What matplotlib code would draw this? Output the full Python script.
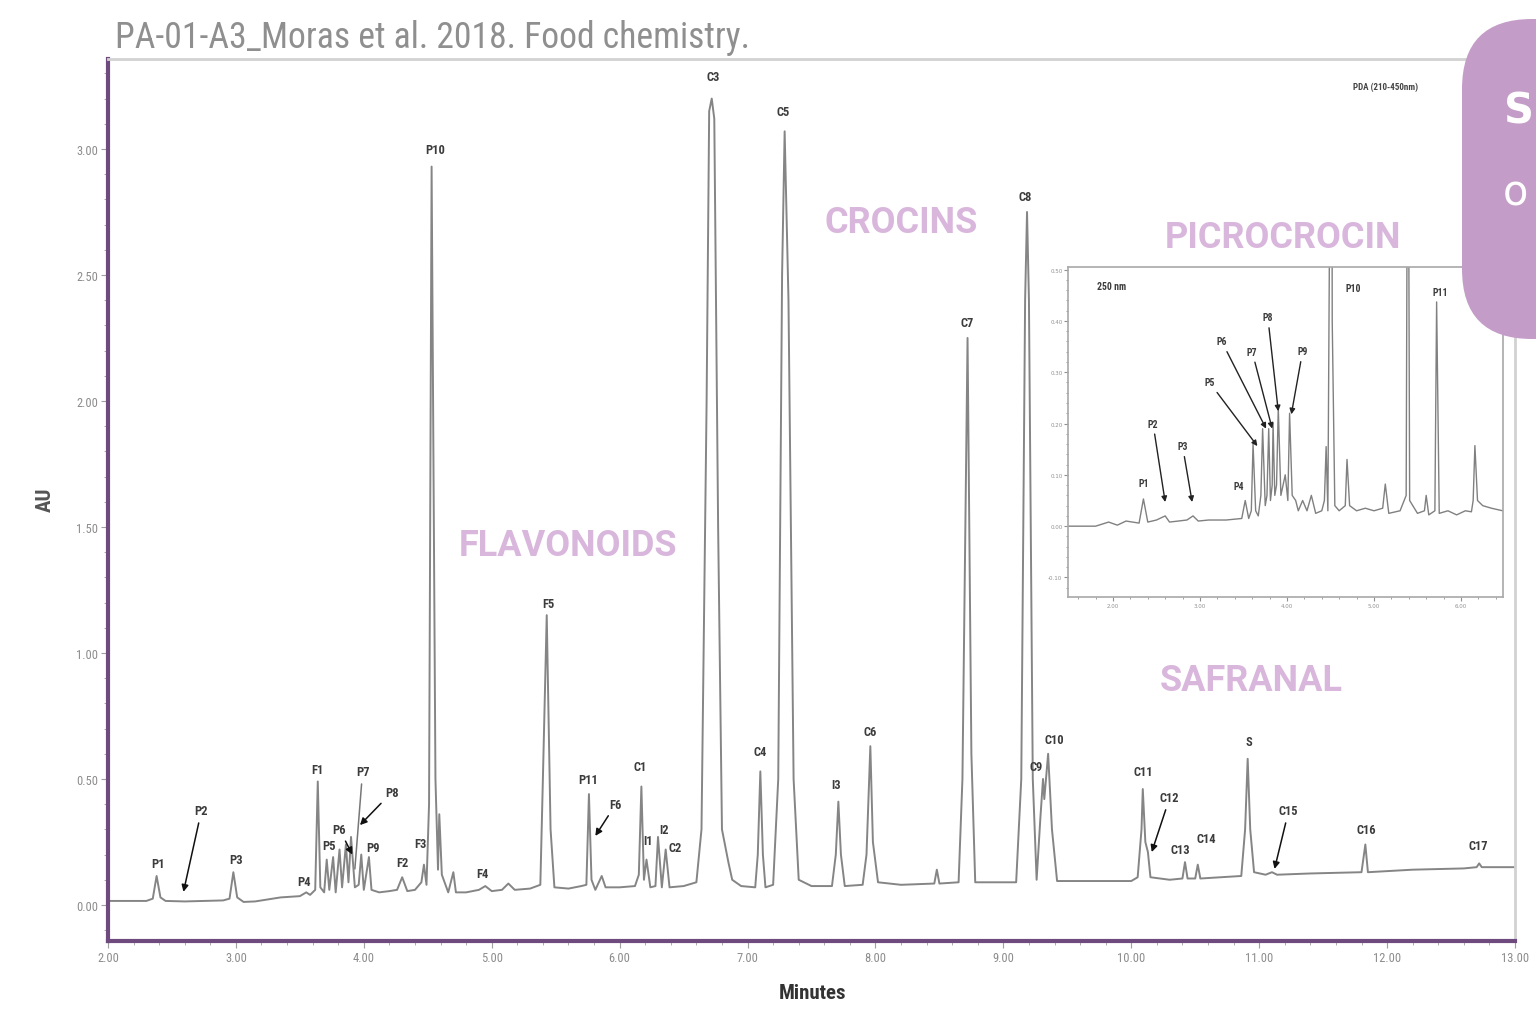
import matplotlib
matplotlib.use('Agg')
import matplotlib.pyplot as plt
from matplotlib import font_manager
from matplotlib.patches import FancyBboxPatch
from matplotlib.ticker import MultipleLocator, FormatStrFormatter

# --- chromatogram PDA 210-450 nm (minutes, AU) ---
trace_t = [2.00, 2.30, 2.35, 2.38, 2.41, 2.45, 2.60, 2.90, 2.95, 2.98, 3.01, 3.06, 3.15, 3.35, 3.50,
           3.55, 3.58, 3.62, 3.64, 3.66, 3.69, 3.71, 3.73, 3.76, 3.78, 3.81, 3.83, 3.86, 3.88, 3.90,
           3.93, 3.96, 3.98, 4.00, 4.04, 4.06, 4.12, 4.20, 4.26, 4.30, 4.34, 4.40, 4.45, 4.47, 4.49,
           4.51, 4.53, 4.56, 4.58, 4.59, 4.61, 4.66, 4.70, 4.72, 4.80, 4.90, 4.95, 5.00, 5.08, 5.13,
           5.18, 5.30, 5.38, 5.40, 5.43, 5.46, 5.49, 5.60, 5.70, 5.74, 5.76, 5.78, 5.81, 5.86, 5.89,
           6.00, 6.12, 6.15, 6.17, 6.19, 6.21, 6.24, 6.28, 6.30, 6.33, 6.36, 6.39, 6.50, 6.60, 6.64,
           6.68, 6.70, 6.72, 6.74, 6.77, 6.80, 6.85, 6.88, 6.95, 7.06, 7.08, 7.10, 7.12, 7.14, 7.20,
           7.24, 7.27, 7.29, 7.32, 7.36, 7.40, 7.50, 7.66, 7.69, 7.71, 7.73, 7.76, 7.90, 7.93, 7.96,
           7.98, 8.02, 8.20, 8.46, 8.48, 8.50, 8.65, 8.68, 8.72, 8.75, 8.78, 9.10, 9.14, 9.17, 9.185,
           9.20, 9.23, 9.26, 9.29, 9.31, 9.32, 9.35, 9.38, 9.42, 9.70, 10.00, 10.05, 10.08, 10.09, 10.11,
           10.13, 10.15, 10.30, 10.40, 10.42, 10.44, 10.50, 10.52, 10.54, 10.70, 10.86, 10.89, 10.91, 10.93, 10.96,
           11.05, 11.10, 11.14, 11.40, 11.80, 11.83, 11.85, 12.20, 12.60, 12.70, 12.72, 12.74, 13.00]
trace_au = [0.016, 0.016, 0.025, 0.115, 0.030, 0.016, 0.014, 0.018, 0.025, 0.130, 0.030, 0.012, 0.014, 0.030, 0.035,
            0.050, 0.040, 0.060, 0.490, 0.070, 0.050, 0.180, 0.060, 0.190, 0.050, 0.220, 0.070, 0.240, 0.090, 0.270,
            0.070, 0.080, 0.200, 0.060, 0.190, 0.060, 0.050, 0.055, 0.060, 0.110, 0.055, 0.060, 0.090, 0.160, 0.080,
            0.400, 2.930, 0.500, 0.140, 0.360, 0.120, 0.050, 0.130, 0.050, 0.050, 0.060, 0.075, 0.055, 0.060, 0.085,
            0.060, 0.065, 0.080, 0.500, 1.150, 0.300, 0.070, 0.065, 0.075, 0.080, 0.440, 0.100, 0.060, 0.115, 0.070,
            0.070, 0.075, 0.120, 0.470, 0.100, 0.180, 0.070, 0.075, 0.270, 0.070, 0.220, 0.070, 0.075, 0.090, 0.300,
            2.000, 3.150, 3.200, 3.120, 1.500, 0.300, 0.170, 0.100, 0.075, 0.070, 0.200, 0.530, 0.200, 0.070, 0.080,
            0.500, 2.500, 3.070, 2.400, 0.500, 0.100, 0.075, 0.075, 0.200, 0.410, 0.200, 0.075, 0.080, 0.200, 0.630,
            0.250, 0.090, 0.080, 0.085, 0.140, 0.085, 0.090, 0.500, 2.250, 0.600, 0.090, 0.090, 0.500, 2.400, 2.750,
            2.400, 0.500, 0.100, 0.350, 0.500, 0.420, 0.600, 0.300, 0.095, 0.095, 0.095, 0.110, 0.300, 0.460, 0.250,
            0.210, 0.110, 0.100, 0.105, 0.170, 0.105, 0.105, 0.160, 0.105, 0.110, 0.115, 0.300, 0.580, 0.300, 0.130,
            0.120, 0.130, 0.120, 0.125, 0.130, 0.240, 0.130, 0.140, 0.145, 0.150, 0.165, 0.150, 0.150]

# peak labels (label, minutes, AU of label centre)
lab_names = ['P1', 'P3', 'P4', 'F1', 'P5', 'P9', 'F2', 'F3', 'P10', 'F4', 'F5', 'P11', 'C1', 'I1', 'I2', 'C2',
             'C3', 'C4', 'C5', 'I3', 'C6', 'C7', 'C8', 'C9', 'C10', 'C11', 'C13', 'C14', 'S', 'C16', 'C17']
lab_t = [2.39, 3.00, 3.53, 3.64, 3.73, 4.07, 4.30, 4.44, 4.56, 4.93, 5.44, 5.75, 6.16, 6.22, 6.35, 6.43,
         6.73, 7.10, 7.28, 7.69, 7.96, 8.72, 9.17, 9.26, 9.40, 10.09, 10.38, 10.59, 10.92, 11.84, 12.71]
lab_au = [0.163, 0.179, 0.095, 0.536, 0.234, 0.230, 0.167, 0.242, 2.996, 0.123, 1.198, 0.496, 0.548, 0.254, 0.300, 0.230,
          3.286, 0.607, 3.150, 0.480, 0.690, 2.310, 2.810, 0.550, 0.655, 0.528, 0.222, 0.262, 0.650, 0.300, 0.234]

# labels with arrows: text position and arrow tip
arr_names = ['P2', 'P6', 'P8', 'F6', 'C12', 'C15']
arr_text_t = [2.73, 3.81, 4.22, 5.97, 10.30, 11.23]
arr_text_au = [0.373, 0.300, 0.448, 0.400, 0.425, 0.373]
arr_tip_t = [2.59, 3.91, 3.97, 5.81, 10.16, 11.12]
arr_tip_au = [0.052, 0.200, 0.317, 0.274, 0.210, 0.143]

groups = ['FLAVONOIDS', 'CROCINS', 'PICROCROCIN', 'SAFRANAL']
group_t = [5.60, 8.20, 11.19, 10.94]
group_au = [1.43, 2.71, 2.65, 0.893]

# --- inset, 250 nm ---
ins_t = [1.48, 1.80, 1.95, 2.05, 2.15, 2.30, 2.35, 2.40, 2.50, 2.60, 2.65, 2.85, 2.92, 2.98, 3.10, 3.30,
         3.48, 3.52, 3.56, 3.59, 3.61, 3.64, 3.67, 3.70, 3.72, 3.75, 3.77, 3.79, 3.81, 3.83, 3.84, 3.86,
         3.88, 3.90, 3.93, 3.98, 4.01, 4.03, 4.06, 4.10, 4.13, 4.18, 4.23, 4.28, 4.33, 4.40, 4.43, 4.45,
         4.47, 4.49, 4.50, 4.52, 4.55, 4.60, 4.67, 4.69, 4.72, 4.80, 4.90, 5.00, 5.10, 5.13, 5.17, 5.30,
         5.37, 5.39, 5.41, 5.50, 5.58, 5.60, 5.63, 5.70, 5.72, 5.75, 5.85, 5.95, 6.05, 6.12, 6.14, 6.16,
         6.19, 6.25, 6.35, 6.48]
ins_au = [0.000, 0.000, 0.008, 0.002, 0.010, 0.006, 0.053, 0.008, 0.012, 0.020, 0.008, 0.012, 0.020, 0.010, 0.012, 0.012,
          0.015, 0.050, 0.015, 0.030, 0.160, 0.030, 0.020, 0.060, 0.190, 0.040, 0.060, 0.190, 0.050, 0.080, 0.200, 0.060,
          0.080, 0.230, 0.060, 0.100, 0.050, 0.220, 0.060, 0.050, 0.030, 0.050, 0.030, 0.060, 0.025, 0.030, 0.050, 0.155,
          0.030, 0.600, 2.900, 0.400, 0.040, 0.030, 0.040, 0.130, 0.040, 0.030, 0.035, 0.030, 0.035, 0.082, 0.025, 0.030,
          0.060, 1.100, 0.050, 0.025, 0.030, 0.060, 0.022, 0.030, 0.437, 0.025, 0.030, 0.022, 0.030, 0.028, 0.050, 0.157,
          0.050, 0.040, 0.035, 0.030]
ins_lab = ['P1', 'P4', 'P10', 'P11']
ins_lab_t = [2.35, 3.44, 4.76, 5.76]
ins_lab_au = [0.084, 0.078, 0.464, 0.456]
ins_arr = ['P2', 'P3', 'P5', 'P6', 'P7', 'P8', 'P9']
ins_arr_text_t = [2.46, 2.80, 3.11, 3.25, 3.60, 3.78, 4.18]
ins_arr_text_au = [0.200, 0.156, 0.280, 0.360, 0.340, 0.407, 0.341]
ins_arr_tip_t = [2.60, 2.91, 3.66, 3.76, 3.83, 3.90, 4.05]
ins_arr_tip_au = [0.047, 0.047, 0.156, 0.190, 0.190, 0.224, 0.218]

# шрифты
names = {f.name for f in font_manager.fontManager.ttflist}
narrow = next((n for n in ['Liberation Sans Narrow', 'Roboto Condensed', 'Open Sans Condensed'] if n in names), 'Roboto')

W, H = 1536, 1012
fig = plt.figure(figsize=(W / 100, H / 100), dpi=100)
ax = fig.add_axes([108 / W, 70 / H, 1407 / W, 882 / H])

ax.plot(trace_t, trace_au, color='#858585', lw=1.4, zorder=2)
ax.set_xlim(2, 13)
ax.set_ylim(-0.143, 3.357)

ax.xaxis.set_major_locator(MultipleLocator(1))
ax.xaxis.set_minor_locator(MultipleLocator(0.2))
ax.yaxis.set_major_locator(MultipleLocator(0.5))
ax.yaxis.set_minor_locator(MultipleLocator(0.1))
ax.xaxis.set_major_formatter(FormatStrFormatter('%.2f'))
ax.yaxis.set_major_formatter(FormatStrFormatter('%.2f'))
ax.tick_params(which='both', direction='out', color='#a0a0a0', labelcolor='#8c8c8c', labelsize=9, pad=2)
ax.tick_params(which='major', length=5)
ax.tick_params(which='minor', length=3)
for lbl in ax.get_xticklabels() + ax.get_yticklabels():
    lbl.set_family(narrow)

for s in ['left', 'bottom']:
    ax.spines[s].set_color('#6e4a7e')
    ax.spines[s].set_linewidth(3)
for s in ['top', 'right']:
    ax.spines[s].set_color('#d2d2d2')
    ax.spines[s].set_linewidth(2)

lab_kw = dict(fontsize=9, color='#3c3c3c', ha='center', va='center', family=narrow, weight='bold')
for n, t, a in zip(lab_names, lab_t, lab_au):
    ax.text(t, a, n, zorder=4, **lab_kw)
for n, t, a, tt, ta in zip(arr_names, arr_text_t, arr_text_au, arr_tip_t, arr_tip_au):
    ax.annotate(n, xy=(tt, ta), xytext=(t, a), zorder=4,
                arrowprops=dict(arrowstyle='-|>', color='#111111', lw=1.1, mutation_scale=10,
                                shrinkA=2, shrinkB=0), **lab_kw)
# P7 with plain leader line
ax.annotate('P7', xy=(3.93, 0.143), xytext=(3.99, 0.528), zorder=4,
            arrowprops=dict(arrowstyle='-', color='#777777', lw=1.1, shrinkA=2, shrinkB=0), **lab_kw)

ax.text(11.99, 3.25, 'PDA (210-450nm)', fontsize=6.5, color='#444444', ha='center', va='center',
        family=narrow, weight='bold')

for g, t, a in zip(groups, group_t, group_au):
    ax.text(t, a, g, fontsize=26, color='#d9b6dc', ha='center', va='center', family='Roboto',
            weight='bold', zorder=6)

# inset 250 nm
axi = fig.add_axes([1068 / W, (H - 598) / H, 435 / W, 330 / H])
axi.plot(ins_t, ins_au, color='#808080', lw=1.0)
axi.set_xlim(1.483, 6.483)
axi.set_ylim(-0.138, 0.505)
axi.xaxis.set_major_locator(MultipleLocator(1))
axi.xaxis.set_minor_locator(MultipleLocator(0.2))
axi.yaxis.set_major_locator(MultipleLocator(0.1))
axi.yaxis.set_minor_locator(MultipleLocator(0.02))
axi.xaxis.set_major_formatter(FormatStrFormatter('%.2f'))
axi.yaxis.set_major_formatter(FormatStrFormatter('%.2f'))
axi.tick_params(which='both', direction='out', color='#909090', labelcolor='#909090', labelsize=4, pad=1)
axi.tick_params(which='major', length=3)
axi.tick_params(which='minor', length=1.5)
for s in axi.spines.values():
    s.set_color('#a8a8a8')
    s.set_linewidth(1.2)

ins_kw = dict(fontsize=7, color='#3c3c3c', ha='center', va='center', family=narrow, weight='bold')
axi.text(1.82, 0.468, '250 nm', fontsize=7, color='#3c3c3c', ha='left', va='center', family=narrow, weight='bold')
for n, t, a in zip(ins_lab, ins_lab_t, ins_lab_au):
    axi.text(t, a, n, **ins_kw)
for n, t, a, tt, ta in zip(ins_arr, ins_arr_text_t, ins_arr_text_au, ins_arr_tip_t, ins_arr_tip_au):
    axi.annotate(n, xy=(tt, ta), xytext=(t, a),
                 arrowprops=dict(arrowstyle='-|>', color='#222222', lw=1.0, mutation_scale=8,
                                 shrinkA=2, shrinkB=0), **ins_kw)

# axis titles
fig.text(45 / W, 1 - 500 / H, 'AU', rotation=90, fontsize=15, color='#555555', ha='center', va='center',
         family=narrow, weight='bold')
fig.text(813 / W, 1 - 994 / H, 'Minutes', fontsize=15, color='#333333', ha='center', va='center',
         family=narrow, weight='bold')

title = fig.text(115 / W, 1 - 38 / H, 'PA-01-A3_Moras et al. 2018. Food chemistry.', fontsize=22,
                 color='#8f8f8f', ha='left', va='center', family=narrow)

# purple badge at the top right corner
badge = FancyBboxPatch((1462, H - 340), 220, 320, boxstyle='round,pad=0,rounding_size=70',
                       facecolor='#c49cc8', edgecolor='none', transform=None, zorder=10)
fig.add_artist(badge)
fig.text(1534 / W, 1 - 112 / H, 'S', fontsize=30, color='white', ha='right', va='center', weight='bold', zorder=11)
fig.text(1503 / W, 1 - 193 / H, 'o', fontsize=30, color='white', ha='left', va='center', zorder=11)

# подгонка ширины заголовка
fig.canvas.draw()
bb = title.get_window_extent()
title.set_fontsize(22 * 635 / bb.width)

fig.savefig('out.png', dpi=100)
